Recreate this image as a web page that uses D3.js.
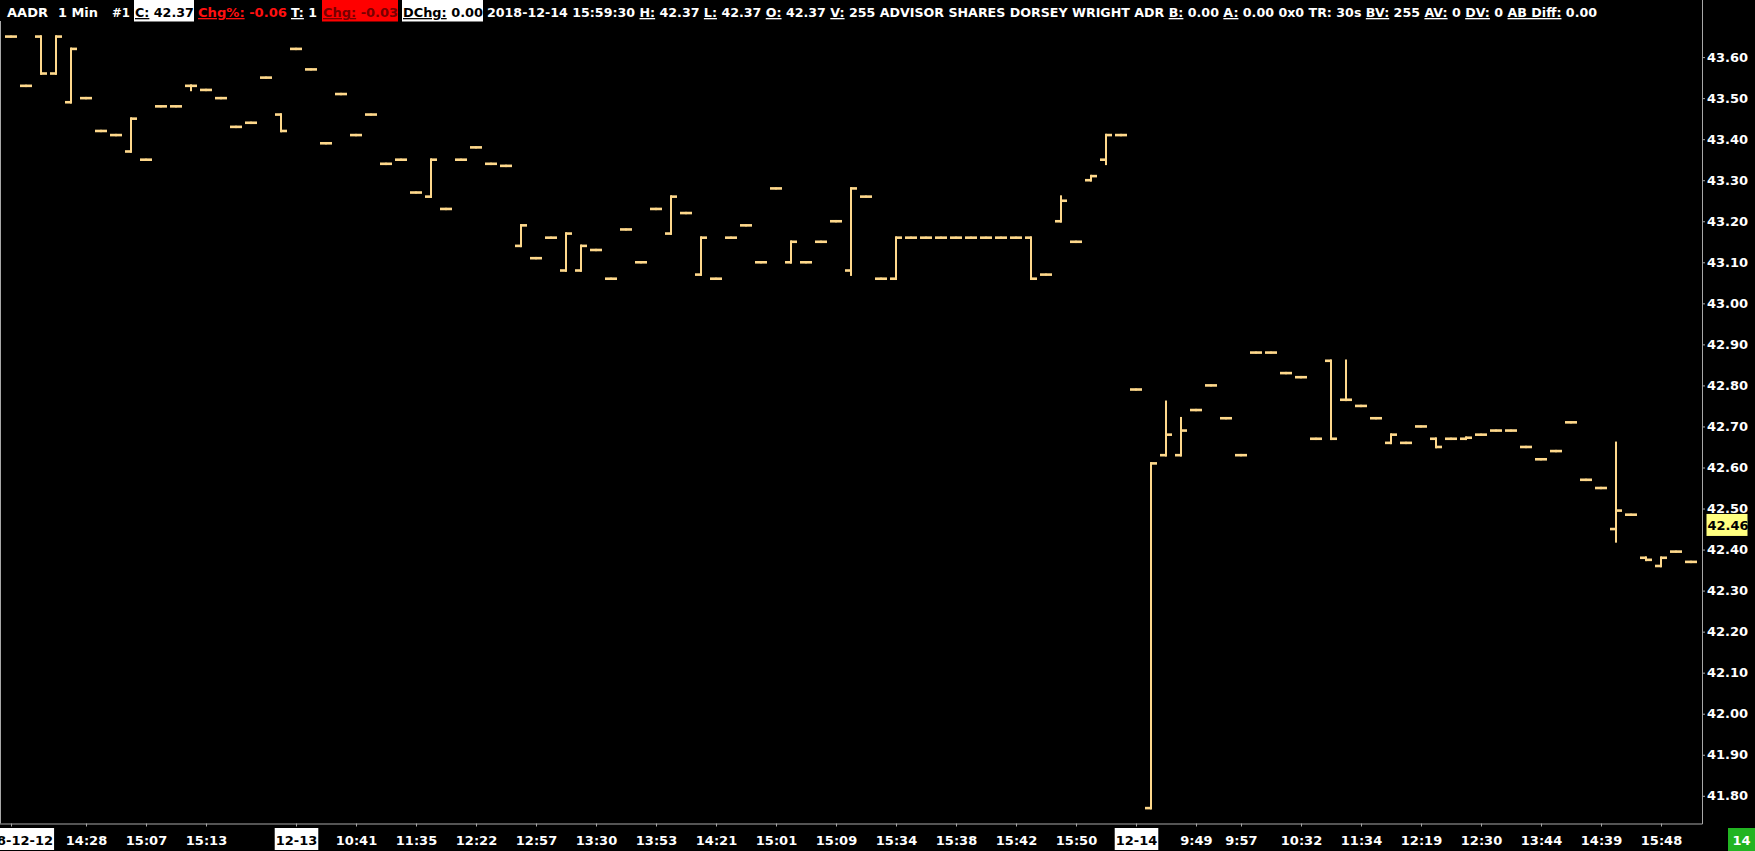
<!DOCTYPE html>
<html><head><meta charset="utf-8">
<script src="https://cdn.jsdelivr.net/npm/d3@7"></script>
<style>
html,body{margin:0;padding:0;background:#000;overflow:hidden}
svg{display:block}
text{white-space:pre}
</style></head><body>
<svg id="c" width="1755" height="851"></svg>
<script>
// ---- data (one bar per minute slot) ----
const openP = [
43.65,43.53,43.65,43.56,43.49,43.50,43.42,43.41,43.37,43.35,
43.48,43.48,43.53,43.52,43.50,43.43,43.44,43.55,43.46,43.62,
43.57,43.39,43.51,43.41,43.46,43.34,43.35,43.27,43.26,43.23,
43.35,43.38,43.34,43.335,43.14,43.11,43.16,43.08,43.08,43.13,
43.06,43.18,43.10,43.23,43.17,43.22,43.07,43.06,43.16,43.19,
43.10,43.28,43.10,43.10,43.15,43.20,43.08,43.26,43.06,43.06,
43.16,43.16,43.16,43.16,43.16,43.16,43.16,43.16,43.16,43.07,
43.20,43.15,43.30,43.35,43.41,42.79,41.77,42.63,42.63,42.74,
42.80,42.72,42.63,42.88,42.88,42.83,42.82,42.67,42.86,42.765,
42.75,42.72,42.66,42.66,42.70,42.67,42.67,42.67,42.68,42.69,
42.69,42.65,42.62,42.64,42.71,42.57,42.55,42.45,42.485,42.38,
42.36,42.395,42.37];
const highP = [
43.65,43.53,43.65,43.65,43.62,43.50,43.42,43.41,43.45,43.35,
43.48,43.48,43.53,43.52,43.50,43.43,43.44,43.55,43.46,43.62,
43.57,43.39,43.51,43.41,43.46,43.34,43.35,43.27,43.35,43.23,
43.35,43.38,43.34,43.335,43.19,43.11,43.16,43.17,43.14,43.13,
43.06,43.18,43.10,43.23,43.26,43.22,43.16,43.06,43.16,43.19,
43.10,43.28,43.15,43.10,43.15,43.20,43.28,43.26,43.06,43.16,
43.16,43.16,43.16,43.16,43.16,43.16,43.16,43.16,43.16,43.07,
43.26,43.15,43.31,43.41,43.41,42.79,42.61,42.76,42.72,42.74,
42.80,42.72,42.63,42.88,42.88,42.83,42.82,42.67,42.86,42.86,
42.75,42.72,42.68,42.66,42.70,42.67,42.67,42.6725,42.68,42.69,
42.69,42.65,42.62,42.64,42.71,42.57,42.55,42.66,42.485,42.38,
42.38,42.395,42.37];
const lowP = [
43.65,43.53,43.56,43.56,43.49,43.50,43.42,43.41,43.37,43.35,
43.48,43.48,43.52,43.52,43.50,43.43,43.44,43.55,43.42,43.62,
43.57,43.39,43.51,43.41,43.46,43.34,43.35,43.27,43.26,43.23,
43.35,43.38,43.34,43.335,43.14,43.11,43.16,43.08,43.08,43.13,
43.06,43.18,43.10,43.23,43.17,43.22,43.07,43.06,43.16,43.19,
43.10,43.28,43.10,43.10,43.15,43.20,43.07,43.26,43.06,43.06,
43.16,43.16,43.16,43.16,43.16,43.16,43.16,43.16,43.06,43.07,
43.20,43.15,43.30,43.34,43.41,42.79,41.77,42.63,42.63,42.74,
42.80,42.72,42.63,42.88,42.88,42.83,42.82,42.67,42.67,42.765,
42.75,42.72,42.66,42.66,42.70,42.65,42.67,42.67,42.68,42.69,
42.69,42.65,42.62,42.64,42.71,42.57,42.55,42.42,42.485,42.375,
42.36,42.395,42.37];
const closeP = [
43.65,43.53,43.56,43.65,43.62,43.50,43.42,43.41,43.45,43.35,
43.48,43.48,43.53,43.52,43.50,43.43,43.44,43.55,43.42,43.62,
43.57,43.39,43.51,43.41,43.46,43.34,43.35,43.27,43.35,43.23,
43.35,43.38,43.34,43.335,43.19,43.11,43.16,43.17,43.14,43.13,
43.06,43.18,43.10,43.23,43.26,43.22,43.16,43.06,43.16,43.19,
43.10,43.28,43.15,43.10,43.15,43.20,43.28,43.26,43.06,43.16,
43.16,43.16,43.16,43.16,43.16,43.16,43.16,43.16,43.06,43.07,
43.25,43.15,43.31,43.41,43.41,42.79,42.61,42.68,42.69,42.74,
42.80,42.72,42.63,42.88,42.88,42.83,42.82,42.67,42.67,42.765,
42.75,42.72,42.68,42.66,42.70,42.65,42.67,42.6725,42.68,42.69,
42.69,42.65,42.62,42.64,42.71,42.57,42.55,42.495,42.485,42.375,
42.38,42.395,42.37];
const timeTickIndex = [0,5,9,13,19,23,27,31,35,39,43,47,51,55,59,63,67,71,75,79,82,86,90,94,98,102,106,110];
const timeTickLabels = ["2018-12-12","14:28","15:07","15:13","12-13","10:41","11:35","12:22","12:57","13:30","13:53","14:21","15:01","15:09","15:34","15:38","15:42","15:50","12-14","9:49","9:57","10:32","11:34","12:19","12:30","13:44","14:39","15:48"];
const priceTicks = [43.60,43.50,43.40,43.30,43.20,43.10,43.00,42.90,42.80,42.70,42.60,42.50,42.40,42.30,42.20,42.10,42.00,41.90,41.80];
const lastMarker = 42.46;
const dayLabel = "14";

// header runs: parts are [text, underlined?]
const headerSegs = [
  {x:7,   w:41,  parts:[["AADR",0]], c:"#fff"},
  {x:58,  w:40,  parts:[["1 Min",0]], c:"#fff"},
  {x:112, w:18,  parts:[["#1",0]], c:"#fff"},
  {x:135, w:59,  parts:[["C:",1],[" 42.37",0]], c:"#000", bg:"#fff", bx:134, bw:60},
  {x:198, w:89,  parts:[["Chg%:",1],[" -0.06",0]], c:"#ff1010"},
  {x:291, w:26,  parts:[["T:",1],[" 1",0]], c:"#fff"},
  {x:323, w:75,  parts:[["Chg:",1],[" -0.03",0]], c:"#780000", bg:"#ff0000", bx:322, bw:76},
  {x:403, w:80,  parts:[["DChg:",1],[" 0.00",0]], c:"#000", bg:"#fff", bx:402, bw:81},
  {x:487, w:1111, parts:[
    ["2018-12-14 15:59:30 ",0],["H:",1],[" 42.37 ",0],["L:",1],[" 42.37 ",0],["O:",1],[" 42.37 ",0],
    ["V:",1],[" 255 ADVISOR SHARES DORSEY WRIGHT ADR ",0],["B:",1],[" 0.00 ",0],["A:",1],[" 0.00 0x0 TR: 30s ",0],
    ["BV:",1],[" 255 ",0],["AV:",1],[" 0 ",0],["DV:",1],[" 0 ",0],["AB Diff:",1],[" 0.00",0]], c:"#fff"}
];

const svg = d3.select("#c");
svg.append("rect").attr("width",1755).attr("height",851).attr("fill","#000");

const n = openP.length;
const x = d3.scaleLinear().domain([0, n-1]).range([11, 1691]);
const y = d3.scaleLinear().domain([41.80, 43.60]).range([795.8, 57.1]);
const axisX = 1702, axisY = 823.5;
const barColor = "#FFD98C";
const gray = "#a8a8a8";
const FONT = "'DejaVu Sans', Verdana, sans-serif";

// header
const hdr = svg.append("g").attr("font-family", FONT).attr("font-weight","bold").attr("font-size",13);
headerSegs.forEach(s => {
  if (s.bg) hdr.append("rect").attr("x", s.bx).attr("y", 0).attr("width", s.bw).attr("height", 21.5).attr("fill", s.bg);
  const t = hdr.append("text").attr("x", 0).attr("y", 0).attr("fill", s.c);
  s.parts.forEach(p => {
    const ts = t.append("tspan").text(p[0]);
    if (p[1]) ts.style("text-decoration", "underline");
  });
  const nat = t.node().getComputedTextLength() || s.w;
  const k = s.w / nat;
  t.attr("transform", `translate(${s.x},17) scale(${k},1)`);
});

// frame
svg.append("line").attr("x1",0.5).attr("x2",0.5).attr("y1",21).attr("y2",axisY).attr("stroke",gray).attr("stroke-width",1);

// bars
const bars = svg.append("g").attr("fill", barColor);
const idx = d3.range(n);
bars.selectAll("rect.v").data(idx.filter(i => highP[i] > lowP[i])).join("rect").attr("class","v")
  .attr("x", i => x(i) - 1).attr("width", 2)
  .attr("y", i => y(highP[i]) - 1.3).attr("height", i => y(lowP[i]) - y(highP[i]) + 2.6);
bars.selectAll("rect.o").data(idx).join("rect").attr("class","o")
  .attr("x", i => x(i) - 6).attr("width", 6.5)
  .attr("y", i => y(openP[i]) - 1.3).attr("height", 2.6);
bars.selectAll("rect.c").data(idx).join("rect").attr("class","c")
  .attr("x", i => x(i) - 0.5).attr("width", 6.5)
  .attr("y", i => y(closeP[i]) - 1.3).attr("height", 2.6);

// right price axis
const yAxis = d3.axisRight(y).tickValues(priceTicks).tickSize(3).tickPadding(2).tickFormat(d3.format(".2f"));
const gy = svg.append("g").attr("transform", `translate(${axisX},0)`).call(yAxis);
gy.select(".domain").remove();
gy.selectAll("line").attr("stroke", gray);
gy.selectAll("text").attr("fill","#fff").attr("font-family",FONT).attr("font-weight","bold").attr("font-size",13);

// bottom time axis
const xAxis = d3.axisBottom(x).tickValues(timeTickIndex).tickSize(3).tickFormat((d,i) => timeTickLabels[i]);
const gx = svg.append("g").attr("transform", `translate(0,${axisY})`).call(xAxis);
gx.select(".domain").remove();
gx.selectAll("line").attr("stroke", gray);
gx.selectAll("text").attr("fill","#fff").attr("font-family",FONT).attr("font-weight","bold").attr("font-size",13)
  .attr("y", 21.5).attr("dy", 0);
gx.selectAll(".tick").each(function(d,i){
  const lab = timeTickLabels[i];
  if (lab.indexOf("-") >= 0) {
    const g = d3.select(this);
    const tx = g.select("text").attr("fill","#000");
    const w = tx.node().getComputedTextLength();
    g.insert("rect","text").attr("x", -w/2 - 1).attr("y", 4.5).attr("width", w + 2).attr("height", 22).attr("fill","#fff");
  }
});

// axis lines
svg.append("line").attr("x1",axisX+0.5).attr("x2",axisX+0.5).attr("y1",0).attr("y2",axisY+0.5).attr("stroke",gray);
svg.append("line").attr("x1",0).attr("x2",axisX+0.5).attr("y1",axisY+0.5).attr("y2",axisY+0.5).attr("stroke",gray);

// last-price marker
const lm = svg.append("g").attr("transform", `translate(1706.5,${y(lastMarker)})`);
lm.append("rect").attr("x",0).attr("y",-11).attr("width",41).attr("height",22).attr("fill","#ffff80");
lm.append("text").attr("x",1).attr("y",0).attr("dy","0.36em").attr("fill","#000")
  .attr("font-family",FONT).attr("font-weight","bold").attr("font-size",13).text(d3.format(".2f")(lastMarker));

// day box bottom right
svg.append("rect").attr("x",1728).attr("y",828).attr("width",27).attr("height",23).attr("fill","#22b422");
svg.append("text").attr("x",1741.5).attr("y",845).attr("text-anchor","middle").attr("fill","#fff")
  .attr("font-family",FONT).attr("font-weight","bold").attr("font-size",13).text(dayLabel);
</script>
</body></html>
